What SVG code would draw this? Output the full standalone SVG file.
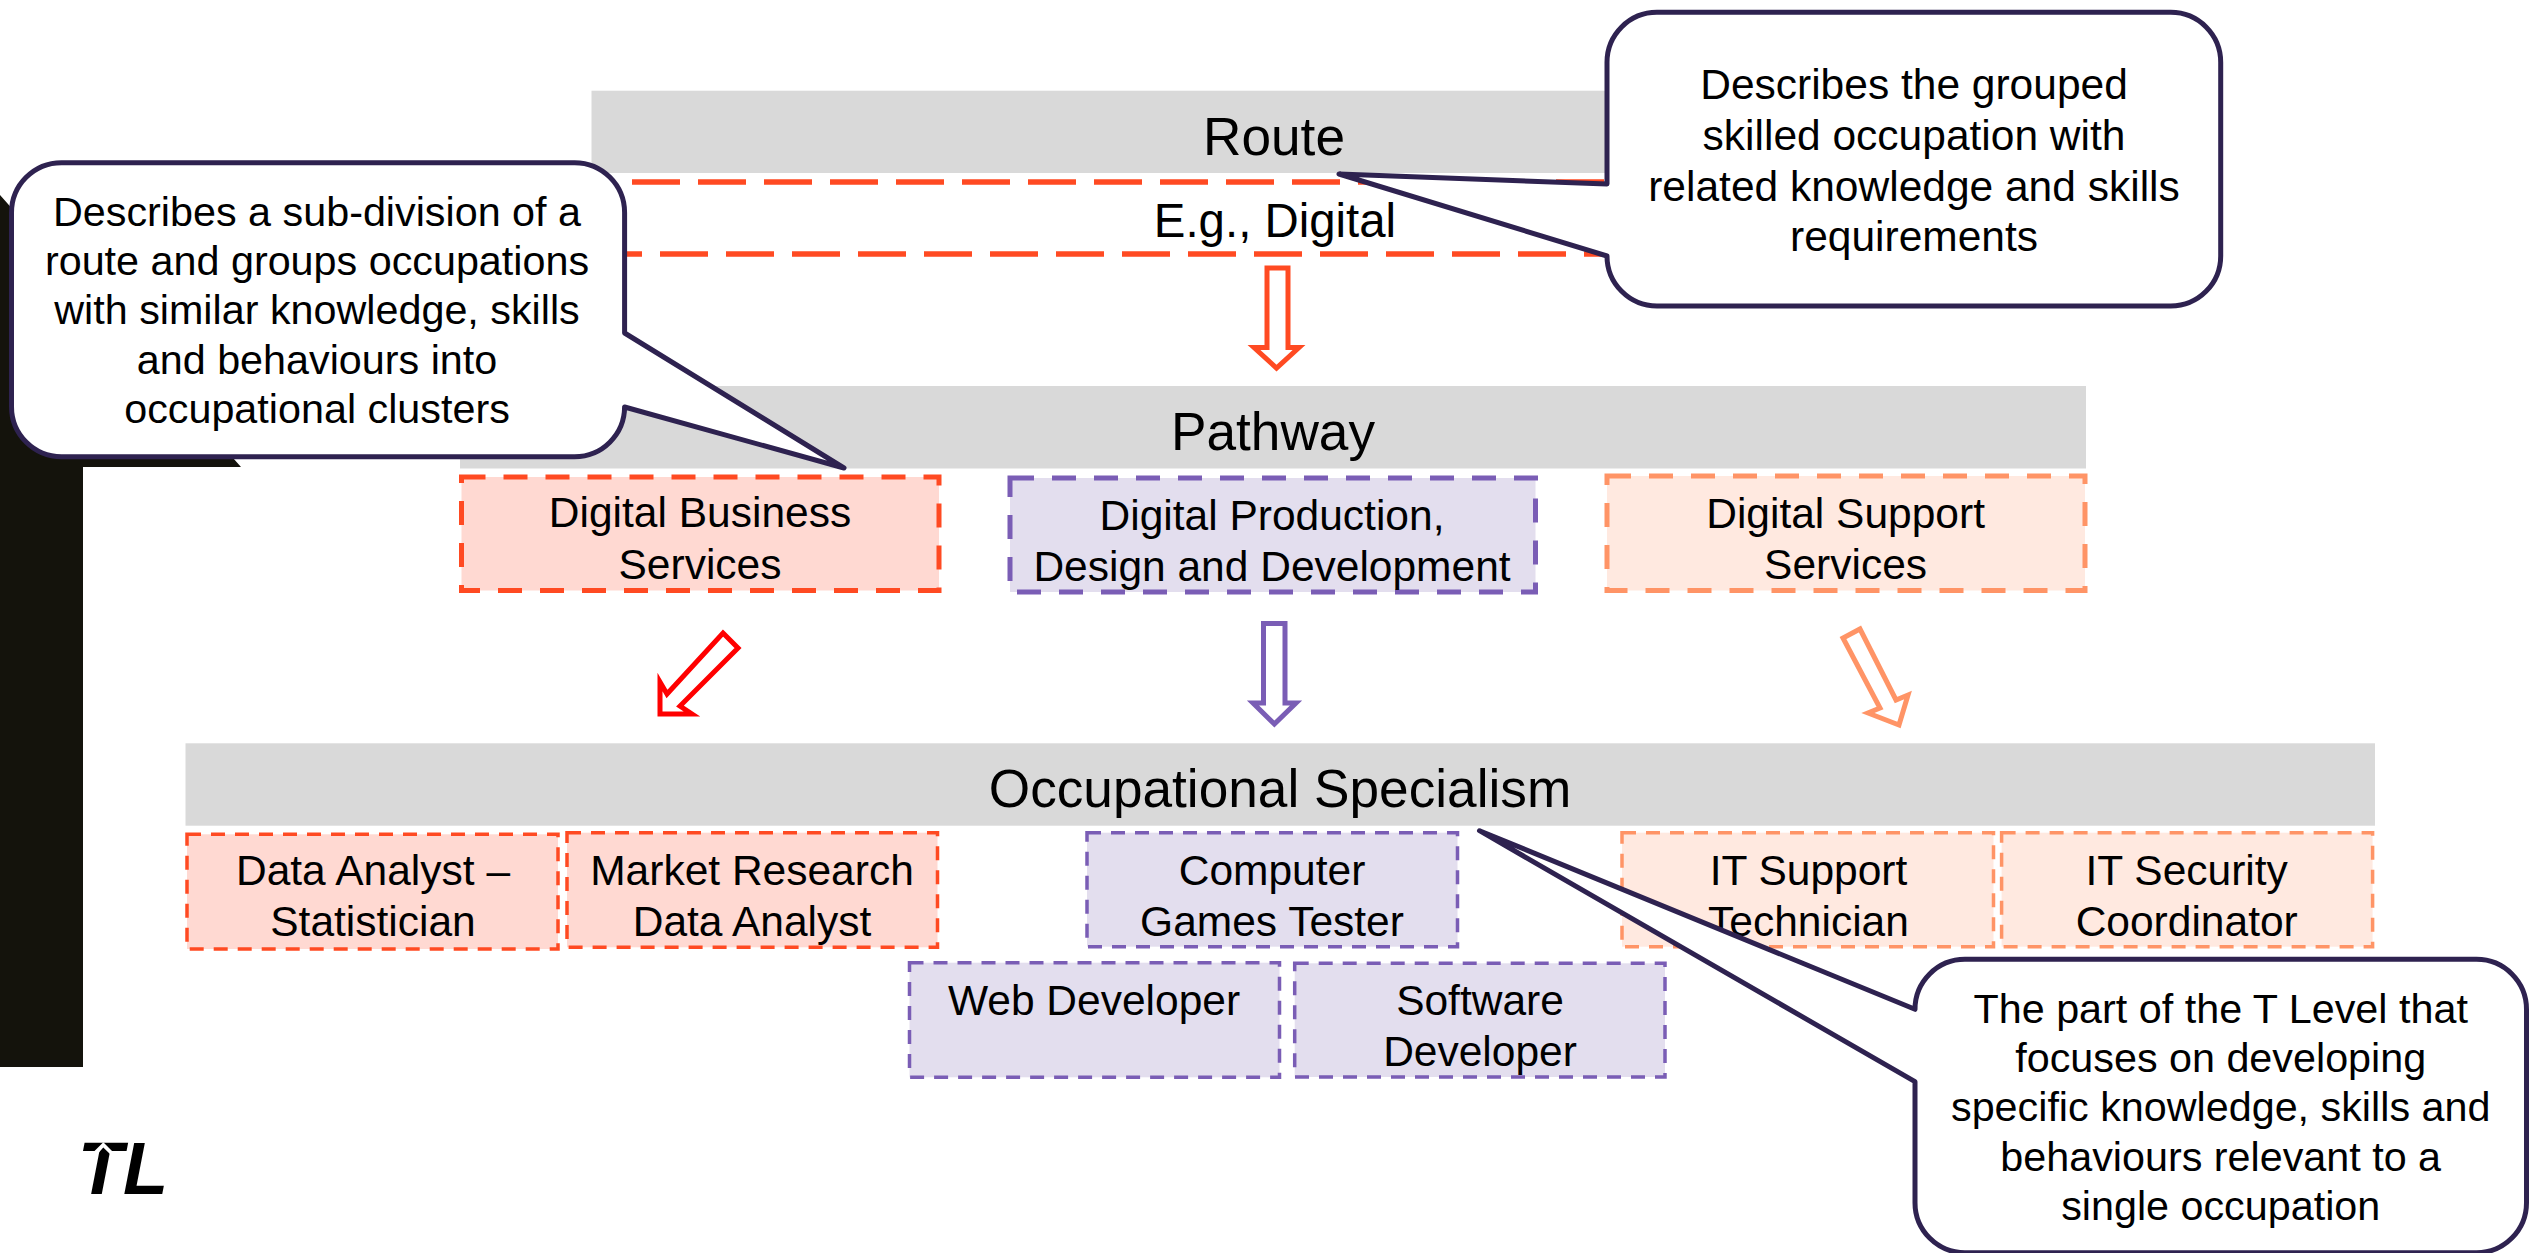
<svg xmlns="http://www.w3.org/2000/svg" width="2534" height="1253" viewBox="0 0 2534 1253">
<style>
text{font-family:"Liberation Sans",Arial,sans-serif;fill:#000;text-anchor:middle}
.h{font-size:53.2px}
.b{font-size:42.5px}
.c{font-size:41.3px}
.bar{fill:#d9d9d9}
.call{fill:#fff;stroke:#2e2250;stroke-width:5;stroke-linejoin:round}
.thick{stroke-width:5;stroke-dasharray:24 18}
.thin{stroke-width:3.5;stroke-dasharray:14 10}
.red{fill:#ffd9d2;stroke:#ff4a22}
.pur{fill:#e3deee;stroke:#7a5db5}
.pea{fill:#ffe9e0;stroke:#ff9466}
.dash{stroke:#ff4a22;stroke-width:5.5;stroke-dasharray:48 18;fill:none}
.arr{fill:#fff;stroke-width:5;stroke-linejoin:miter;stroke-miterlimit:10}
</style>
<rect width="2534" height="1253" fill="#fff"/>
<polygon id="backdrop" points="0,195 241,467 83,467 83,1067 0,1067" fill="#14130c"/>

<g id="route"><rect class="bar" x="591.500" y="90.700" width="1366" height="82.300"/><text class="h" x="1274" y="154.500">Route</text></g>
<g id="route-example">
<line class="dash" x1="632" y1="182" x2="1630" y2="182"/>
<line class="dash" x1="594" y1="254" x2="1630" y2="254"/>
<text class="b" x="1275" y="237" style="font-size:47.4px">E.g., Digital</text>
</g>

<g id="pathway"><rect class="bar" x="460" y="386" width="1626" height="82.500"/><text class="h" x="1273" y="449.500">Pathway</text></g>
<g id="digital-business"><rect class="red thick" x="461.500" y="477" width="477.500" height="113.500"/><text class="b" x="700" y="527.300">Digital Business</text><text class="b" x="700" y="578.600">Services</text></g>
<g id="digital-production"><rect class="pur thick" x="1010" y="478" width="525.500" height="114"/><text class="b" x="1272" y="529.600">Digital Production,</text><text class="b" x="1272" y="581">Design and Development</text></g>
<g id="digital-support"><rect class="pea thick" x="1607" y="476" width="478" height="114.500"/><text class="b" x="1845.600" y="527.500">Digital Support</text><text class="b" x="1845.600" y="578.500">Services</text></g>

<g id="specialism"><rect class="bar" x="185.500" y="743.300" width="2189.500" height="82.400"/><text class="h" x="1280" y="806.500">Occupational Specialism</text></g>
<g id="data-analyst"><rect class="red thin" x="187" y="834.300" width="371" height="114.700"/><text class="b" x="373" y="885.300">Data Analyst –</text><text class="b" x="373" y="936.300">Statistician</text></g>
<g id="market-research"><rect class="red thin" x="567" y="832.700" width="370.500" height="114.600"/><text class="b" x="752" y="884.500">Market Research</text><text class="b" x="752" y="935.500">Data Analyst</text></g>
<g id="computer-games"><rect class="pur thin" x="1087" y="832.700" width="370.500" height="114"/><text class="b" x="1272" y="884.500">Computer</text><text class="b" x="1272" y="935.500">Games Tester</text></g>
<g id="web-developer"><rect class="pur thin" x="909.500" y="962.700" width="370" height="114.600"/><text class="b" x="1094" y="1014.500">Web Developer</text></g>
<g id="software-developer"><rect class="pur thin" x="1294.700" y="963.300" width="370.300" height="113.700"/><text class="b" x="1480" y="1014.500">Software</text><text class="b" x="1480" y="1065.500">Developer</text></g>
<g id="it-support"><rect class="pea thin" x="1622" y="832.700" width="371.500" height="114"/><text class="b" x="1808.500" y="885.300">IT Support</text><text class="b" x="1808.500" y="936">Technician</text></g>
<g id="it-security"><rect class="pea thin" x="2001.600" y="832.700" width="371" height="114"/><text class="b" x="2186.700" y="885.300">IT Security</text><text class="b" x="2186.700" y="936">Coordinator</text></g>

<g id="connectors">
<polygon class="arr" stroke="#ff4a22" points="1267,268 1288,268 1288,347.500 1299,347.500 1276.500,368 1254,347.500 1267,347.500"/>
<polygon class="arr" stroke="#ff0000" points="723,633 738,648 680,706 692,714 660,714 660,682 667,694"/>
<polygon class="arr" stroke="#7a5db5" points="1263.500,623.500 1285,623.500 1285,703 1296,703 1274.400,724 1253,703 1263.500,703"/>
<polygon class="arr" stroke="#ff9466" points="1860,629 1896,700 1908,695 1899,725 1868,713 1880,708 1843,638"/>
</g>

<g id="callout-subdivision">
<path class="call" d="M61.500,162.700H574.600A50,50 0 0 1 624.600,212.700V333L844,468L624.600,407A50,50 0 0 1 574.600,456.700H61.500A50,50 0 0 1 11.500,406.700V212.700A50,50 0 0 1 61.500,162.700Z"/>
<text class="c" x="317" y="225.500">Describes a sub-division of a</text>
<text class="c" x="317" y="274.800">route and groups occupations</text>
<text class="c" x="317" y="323.800">with similar knowledge, skills</text>
<text class="c" x="317" y="373.500">and behaviours into</text>
<text class="c" x="317" y="423">occupational clusters</text>
</g>
<g id="callout-route">
<path class="call" d="M1657,12.300H2170.700A50,50 0 0 1 2220.700,62.300V256A50,50 0 0 1 2170.700,306H1657A50,50 0 0 1 1607,256L1339,174L1607,184V62.300A50,50 0 0 1 1657,12.300Z"/>
<text class="b" x="1914" y="98.800">Describes the grouped</text>
<text class="b" x="1914" y="149.800">skilled occupation with</text>
<text class="b" x="1914" y="200.500">related knowledge and skills</text>
<text class="b" x="1914" y="251">requirements</text>
</g>
<g id="callout-specialism">
<path class="call" d="M1965,959.300H2476.500A50,50 0 0 1 2526.500,1009.300V1202.700A50,50 0 0 1 2476.500,1252.700H1965A50,50 0 0 1 1915,1202.700V1081.700L1479.500,830.700L1915,1009.300A50,50 0 0 1 1965,959.300Z"/>
<text class="c" x="2220.700" y="1022.500">The part of the T Level that</text>
<text class="c" x="2220.700" y="1072">focuses on developing</text>
<text class="c" x="2220.700" y="1121">specific knowledge, skills and</text>
<text class="c" x="2220.700" y="1170.500">behaviours relevant to a</text>
<text class="c" x="2220.700" y="1219.800">single occupation</text>
</g>

<g id="logo">
<text x="123" y="1194.300" style="font-size:74px;font-weight:bold;font-style:italic">TL</text>
<polygon points="103.300,1142.200 115,1154 110,1154 103.300,1147.500 97.500,1154 91.500,1154" fill="#fff"/>
</g>
</svg>
